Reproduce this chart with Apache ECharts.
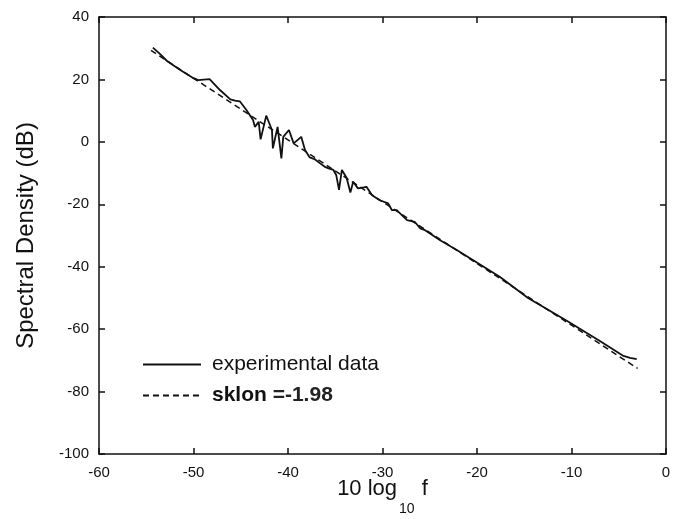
<!DOCTYPE html>
<html>
<head>
<meta charset="utf-8">
<script src="https://cdn.jsdelivr.net/npm/echarts@6/dist/echarts.min.js"></script>
<style>
html,body{margin:0;padding:0;background:#fff;}
#chart{width:673px;height:519px;}
</style>
</head>
<body>
<div id="chart"></div>
<script>
// x tick labels and y tick labels
var xTicks = [-60, -50, -40, -30, -20, -10, 0];
var yTicks = [-100, -80, -60, -40, -20, 0, 20, 40];

// experimental data: [10 log10 f, spectral density dB]
var expX = [-54.3, -54.0, -53.5, -52.8, -51.4, -50.0, -49.5, -48.3, -47.2, -46.1, -45.6, -45.1,
  -44.4, -43.7, -43.5, -43.1, -42.9, -42.3, -41.7, -41.6, -41.1, -40.7, -40.5, -39.9, -39.4,
  -38.6, -38.2, -37.7, -37.2, -36.6, -36.1, -35.7, -35.2, -34.9, -34.6, -34.3, -33.8, -33.4,
  -33.1, -32.6, -32.0, -31.7, -31.1, -30.3, -29.4, -29.0, -28.5, -27.4, -26.6, -26.0, -25.5,
  -23.9, -22.1, -20.4, -17.6, -14.6, -10.5, -7.0, -4.5, -3.8, -3.1];
var expY = [30.2, 29.4, 28.0, 25.9, 23.0, 20.4, 19.8, 20.1, 16.6, 13.6, 13.2, 13.0,
  10.2, 7.0, 4.8, 6.4, 0.8, 8.4, 3.8, -2.1, 4.8, -5.3, 1.6, 3.8, -0.5,
  1.6, -2.6, -5.0, -5.5, -6.9, -8.0, -8.5, -9.0, -10.6, -15.4, -9.0, -11.5, -16.2,
  -12.8, -14.9, -14.6, -14.4, -17.1, -18.7, -19.7, -21.9, -21.9, -25.1, -25.6, -27.7, -28.3,
  -31.5, -34.7, -37.9, -43.2, -50.0, -57.3, -63.8, -68.6, -69.2, -69.6];

// fitted line (slope -1.98), endpoints
var fitX = [-54.5, -3.0];
var fitY = [29.3, -72.6];

var seriesNames = ['experimental data', 'sklon =-1.98'];

function pairs(xs, ys) { return xs.map(function (x, i) { return [x, ys[i]]; }); }

var chart = echarts.init(document.getElementById('chart'), null, {renderer: 'canvas'});
var FONT = '"Liberation Sans", Arial, Helvetica, sans-serif';

var axisCommon = {
  axisLine: {show: true, onZero: false, lineStyle: {color: '#111', width: 1.5}},
  axisTick: {show: true, inside: true, length: 6, lineStyle: {color: '#111', width: 1.5}},
  splitLine: {show: false}
};

var option = {
  backgroundColor: '#fff',
  animation: false,
  textStyle: {fontFamily: FONT},
  grid: {left: 99, right: 7, top: 17, bottom: 65, containLabel: false, outerBoundsMode: 'none'},
  legend: {
    orient: 'vertical',
    left: 137,
    top: 349,
    itemWidth: 58,
    itemHeight: 12,
    itemGap: 10,
    selectedMode: false,
    data: seriesNames,
    itemStyle: {opacity: 0},
    formatter: function (name) {
      if (name.indexOf('sklon') === 0) { return '{b|sklon} {n|=-1.98}'; }
      return name;
    },
    textStyle: {
      fontFamily: FONT, fontSize: 21, color: '#111', lineHeight: 20, padding: [0, 0, 0, 6],
      rich: {
        b: {fontFamily: FONT, fontSize: 21, fontWeight: 'bold', color: '#111'},
        n: {fontFamily: FONT, fontSize: 21, fontWeight: 'bold', color: '#222'}
      }
    }
  },
  xAxis: [
    Object.assign({}, axisCommon, {
      type: 'value', min: xTicks[0], max: xTicks[xTicks.length - 1], interval: 10,
      position: 'bottom',
      axisLabel: {show: true, fontFamily: FONT, fontSize: 15, color: '#111', margin: 11},
      name: '{m|10 log}{s|10}{m| f}',
      nameLocation: 'middle',
      nameGap: 24,
      nameMoveOverlap: false,
      nameTextStyle: {
        rich: {
          m: {fontFamily: FONT, fontSize: 22, color: '#111', verticalAlign: 'top'},
          s: {fontFamily: FONT, fontSize: 14, color: '#111', verticalAlign: 'top', padding: [24, 1, 0, 2]}
        }
      }
    }),
    Object.assign({}, axisCommon, {
      type: 'value', min: xTicks[0], max: xTicks[xTicks.length - 1], interval: 10,
      position: 'top', axisLabel: {show: false}
    })
  ],
  yAxis: [
    Object.assign({}, axisCommon, {
      type: 'value', min: yTicks[0], max: yTicks[yTicks.length - 1], interval: 20,
      position: 'left',
      axisLabel: {show: true, fontFamily: FONT, fontSize: 15, color: '#111', margin: 10},
      name: 'Spectral Density (dB)',
      nameLocation: 'middle',
      nameGap: 61,
      nameMoveOverlap: false,
      nameTextStyle: {fontFamily: FONT, fontSize: 24, color: '#111'}
    }),
    Object.assign({}, axisCommon, {
      type: 'value', min: yTicks[0], max: yTicks[yTicks.length - 1], interval: 20,
      position: 'right', axisLabel: {show: false}
    })
  ],
  series: [
    {
      name: seriesNames[0], type: 'line', xAxisIndex: 0, yAxisIndex: 0,
      data: pairs(expX, expY), symbol: 'none', smooth: false,
      lineStyle: {color: '#111', width: 1.8, type: 'solid'},
      itemStyle: {color: '#111'}
    },
    {
      name: seriesNames[1], type: 'line', xAxisIndex: 0, yAxisIndex: 0,
      data: pairs(fitX, fitY), symbol: 'none',
      lineStyle: {color: '#111', width: 1.5, type: [6, 4]},
      itemStyle: {color: '#111'}
    }
  ]
};
chart.setOption(option);
</script>
</body>
</html>
